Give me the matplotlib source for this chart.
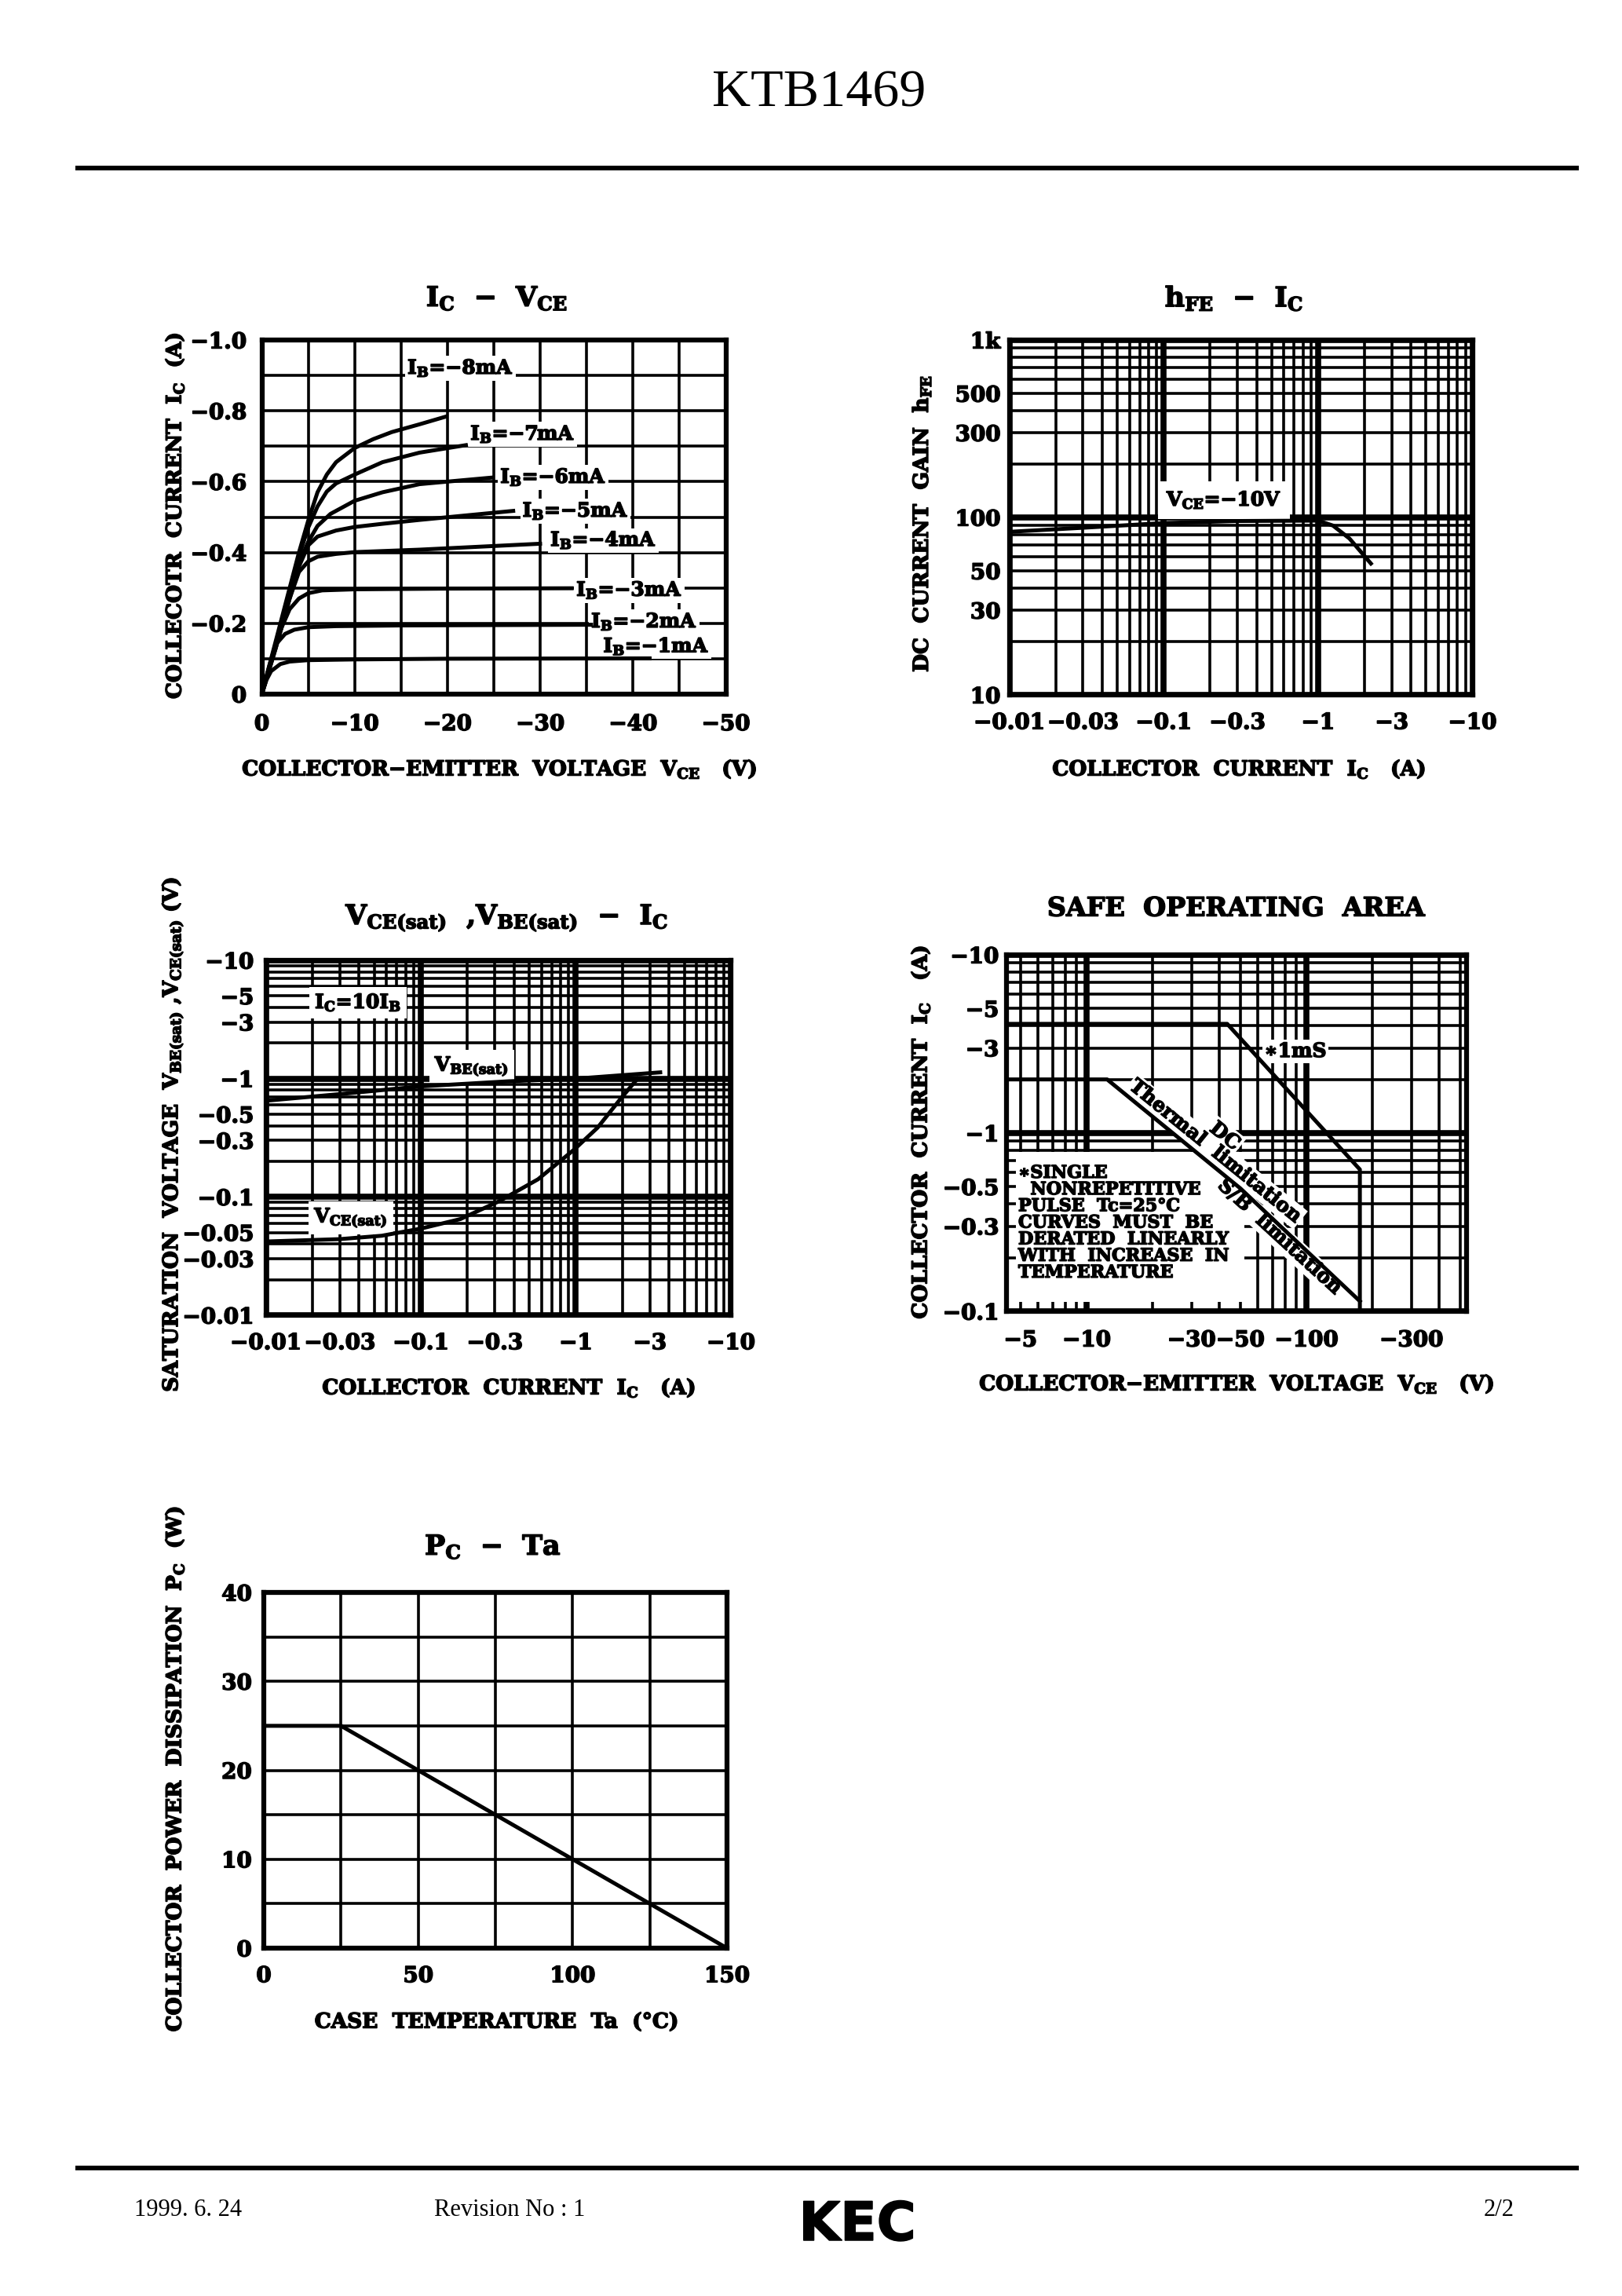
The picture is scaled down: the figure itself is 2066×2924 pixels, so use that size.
import matplotlib
matplotlib.use("Agg")
import matplotlib.pyplot as plt
import matplotlib.patheffects as pe
import numpy as np
from matplotlib.lines import Line2D
from matplotlib.patches import Rectangle
from matplotlib.ticker import NullLocator

plt.rcParams['font.family'] = ['DejaVu Serif', 'DejaVu Sans']
plt.rcParams['font.weight'] = 'bold'
plt.rcParams['mathtext.fontset'] = 'custom'
plt.rcParams['mathtext.rm'] = 'DejaVu Serif:bold'
plt.rcParams['mathtext.it'] = 'DejaVu Serif:bold'
plt.rcParams['mathtext.bf'] = 'DejaVu Serif:bold'

W, H = 2066, 2924

# ---------------- data ----------------
# Ic - Vce  (V, A)
vce_8ma = [0, -1.5, -3, -4, -5, -6, -7, -8, -10, -12, -14, -17, -20]
ic_8ma = [0, -0.15, -0.30, -0.40, -0.49, -0.57, -0.62, -0.655, -0.695, -0.72, -0.74, -0.762, -0.785]
vce_7ma = [0, -1.5, -3, -4, -5, -6, -7, -8, -10, -13, -17, -22.2]
ic_7ma = [0, -0.14, -0.29, -0.39, -0.47, -0.53, -0.572, -0.595, -0.62, -0.655, -0.682, -0.704]
vce_6ma = [0, -1.5, -3, -4, -5, -6, -7.4, -10, -13, -17, -25]
ic_6ma = [0, -0.14, -0.28, -0.37, -0.43, -0.475, -0.509, -0.546, -0.57, -0.593, -0.612]
vce_5ma = [0, -1.5, -3, -4, -5, -6, -8, -10, -13, -17, -27.3]
ic_5ma = [0, -0.13, -0.27, -0.36, -0.42, -0.445, -0.462, -0.472, -0.481, -0.492, -0.518]
vce_4ma = [0, -1.5, -3, -4, -5, -6, -8, -10, -17, -30.2]
ic_4ma = [0, -0.13, -0.27, -0.345, -0.375, -0.388, -0.396, -0.401, -0.408, -0.425]
vce_3ma = [0, -1, -2, -3, -4, -5, -6.5, -10, -20, -33.6]
ic_3ma = [0, -0.09, -0.18, -0.24, -0.27, -0.285, -0.293, -0.296, -0.298, -0.299]
vce_2ma = [0, -0.8, -1.5, -2.5, -3.5, -5, -8, -15, -35.7]
ic_2ma = [0, -0.08, -0.14, -0.17, -0.182, -0.189, -0.192, -0.194, -0.196]
vce_1ma = [0, -0.5, -1, -2, -3, -5, -10, -20, -42]
ic_1ma = [0, -0.04, -0.065, -0.085, -0.092, -0.096, -0.098, -0.1, -0.101]
ib_names = ['−8mA', '−7mA', '−6mA', '−5mA', '−4mA', '−3mA', '−2mA', '−1mA']
ic_vce_xticks = [0, -10, -20, -30, -40, -50]
ic_vce_yticks = [0, -0.2, -0.4, -0.6, -0.8, -1.0]

# hFE - Ic (magnitudes, A)
hfe_ic = [0.01, 0.03, 0.1, 0.3, 1.0, 1.25, 1.6, 2.2]
hfe = [83, 87.5, 93, 95.5, 96, 90, 76, 55]
hfe_yticks = [10, 30, 50, 100, 300, 500, 1000]
hfe_ylabels = ['10', '30', '50', '100', '300', '500', '1k']

# Vce(sat), Vbe(sat) - Ic (magnitudes)
vbe_ic = [0.01, 0.03, 0.1, 0.37, 1.0, 3.5]
vbe_sat = [0.65, 0.74, 0.86, 0.95, 1.0, 1.13]
vcesat_ic = [0.01, 0.03, 0.056, 0.1, 0.18, 0.32, 0.57, 0.97, 1.38, 1.95, 2.5]
vce_sat = [0.042, 0.044, 0.047, 0.054, 0.065, 0.092, 0.141, 0.25, 0.385, 0.68, 1.0]
ic_log_ticks = [0.01, 0.03, 0.1, 0.3, 1, 3, 10]
ic_log_labels = ['−0.01', '−0.03', '−0.1', '−0.3', '−1', '−3', '−10']
sat_yticks = [0.01, 0.03, 0.05, 0.1, 0.3, 0.5, 1, 3, 5, 10]
sat_ylabels = ['−0.01', '−0.03', '−0.05', '−0.1', '−0.3', '−0.5', '−1', '−3', '−5', '−10']

# Safe operating area (magnitudes, V / A)
soa_dc_v = [4.32, 12.4, 50, 175]
soa_dc_i = [2.0, 2.0, 0.49, 0.114]
soa_1ms_v = [4.32, 43.6, 175, 175]
soa_1ms_i = [4.1, 4.1, 0.625, 0.1]
soa_xticks = [5, 10, 30, 50, 100, 300]
soa_xlabels = ['−5', '−10', '−30', '−50', '−100', '−300']
soa_yticks = [0.1, 0.3, 0.5, 1, 3, 5, 10]
soa_ylabels = ['−0.1', '−0.3', '−0.5', '−1', '−3', '−5', '−10']

# Pc - Ta
ta = [0, 25, 150]
pc = [25, 25, 0]

# ---------------- helpers ----------------
fig = plt.figure(figsize=(W / 100, H / 100), dpi=100)
HEAVY = [pe.withStroke(linewidth=1.1, foreground='k')]


def fy(py):
    return 1 - py / H


def frame(x0, y0, x1, y1):
    ax = fig.add_axes([x0 / W, 1 - y1 / H, (x1 - x0) / W, (y1 - y0) / H])
    for s in ax.spines.values():
        s.set_linewidth(4.5)
        s.set_zorder(5)
    ax.tick_params(length=0, labelsize=20)
    return ax


def heavy_ticks(ax):
    for lbl in ax.get_xticklabels() + ax.get_yticklabels():
        lbl.set_path_effects(HEAVY)


def log_grid(ax, lo, hi, axis, lw_minor=2.6, lw_major=5.5):
    for e in range(int(np.floor(np.log10(lo))), int(np.ceil(np.log10(hi))) + 1):
        for m in range(1, 10):
            v = m * 10.0 ** e
            if lo * 0.999 <= v <= hi * 1.001:
                lw = lw_major if m == 1 else lw_minor
                if axis == 'x':
                    ax.axvline(v, color='k', lw=lw, zorder=1)
                else:
                    ax.axhline(v, color='k', lw=lw, zorder=1)


def ftext(x, y, s, size, rot=0, heavy=True, **kw):
    t = fig.text(x / W, fy(y), s, fontsize=size, rotation=rot, ha='center', va='center', **kw)
    if heavy:
        t.set_path_effects(HEAVY)


def atext(ax, x, y, s, size=18, pad=2, **kw):
    t = ax.text(x, y, s, fontsize=size, ha='center', va='center',
                bbox=dict(facecolor='white', edgecolor='none', pad=pad), zorder=2.5, **kw)
    t.set_path_effects(HEAVY)


CW = 3.6  # curve width

# ---------------- header / footer ----------------
ftext(1043, 119, 'KTB1469', 49, heavy=False, family='Liberation Serif', weight='normal')
fig.add_artist(Line2D([99 / W, 2008 / W], [fy(214)] * 2, lw=4.3, color='k'))
fig.add_artist(Line2D([99 / W, 2008 / W], [fy(2761)] * 2, lw=4.3, color='k'))
ftext(240, 2815, '1999. 6. 24', 22, heavy=False, family='Liberation Serif', weight='normal')
ftext(649, 2815, 'Revision No : 1', 22, heavy=False, family='Liberation Serif', weight='normal')
ftext(1909, 2815, '2/2', 22, heavy=False, family='Liberation Serif', weight='normal')
ftext(1092, 2834, 'KEC', 49, family='DejaVu Sans', weight='bold')

# ---------------- Ic - Vce ----------------
ax = frame(333.5, 433, 924.5, 884)
ax.set_xlim(0, -50)
ax.set_ylim(0, -1.0)
ax.set_xticks(np.arange(0, -50.1, -5), minor=True)
ax.set_yticks(np.arange(0, -1.01, -0.1), minor=True)
ax.grid(True, which='both', color='k', lw=2.6, zorder=1)
ax.tick_params(which='minor', length=0)
ax.set_xticks(ic_vce_xticks)
ax.set_xticklabels(['0', '−10', '−20', '−30', '−40', '−50'])
ax.set_yticks(ic_vce_yticks)
ax.set_yticklabels(['0', '−0.2', '−0.4', '−0.6', '−0.8', '−1.0'])
ax.tick_params(axis='y', pad=14)
ax.tick_params(axis='x', pad=18)
ax.set_axisbelow(True)
heavy_ticks(ax)
curves = [(vce_8ma, ic_8ma), (vce_7ma, ic_7ma), (vce_6ma, ic_6ma), (vce_5ma, ic_5ma),
          (vce_4ma, ic_4ma), (vce_3ma, ic_3ma), (vce_2ma, ic_2ma), (vce_1ma, ic_1ma)]
for v, i in curves:
    ax.plot(v, i, color='k', lw=CW, zorder=3, solid_capstyle='butt')
lab_v = [-21.4, -28.1, -31.4, -33.8, -36.8, -39.6, -41.2, -42.5]
lab_i = [-0.92, -0.734, -0.612, -0.517, -0.434, -0.293, -0.204, -0.134]
for name, lv, li in zip(ib_names, lab_v, lab_i):
    atext(ax, lv, li, r'I$_\mathrm{B}$=' + name)
ftext(633, 380, r'I$_\mathrm{C}$  −  V$_\mathrm{CE}$', 25)
ftext(636, 980, r'COLLECTOR−EMITTER  VOLTAGE  V$_\mathrm{CE}$   (V)', 19)
ftext(223, 657, r'COLLECOTR  CURRENT  I$_\mathrm{C}$  (A)', 19, rot=90)

# ---------------- hFE - Ic ----------------
ax = frame(1285.5, 433, 1875.5, 885)
ax.set_xscale('log')
ax.set_yscale('log')
ax.set_xlim(0.01, 10)
ax.set_ylim(10, 1000)
log_grid(ax, 0.01, 10, 'x')
log_grid(ax, 10, 1000, 'y')
ax.plot(hfe_ic, hfe, color='k', lw=CW, zorder=3)
ax.set_xticks(ic_log_ticks)
ax.set_xticklabels(ic_log_labels)
ax.set_yticks(hfe_yticks)
ax.set_yticklabels(hfe_ylabels)
ax.xaxis.set_minor_locator(NullLocator())
ax.yaxis.set_minor_locator(NullLocator())
ax.tick_params(axis='y', pad=8)
ax.tick_params(axis='x', pad=16)
heavy_ticks(ax)
atext(ax, 0.246, 125, r'V$_\mathrm{CE}$=−10V', pad=8)
ftext(1572, 380, r'h$_\mathrm{FE}$  −  I$_\mathrm{C}$', 25)
ftext(1578, 980, r'COLLECTOR  CURRENT  I$_\mathrm{C}$   (A)', 19)
ftext(1174, 667, r'DC  CURRENT  GAIN  h$_\mathrm{FE}$', 19, rot=90)

# ---------------- Vce(sat), Vbe(sat) - Ic ----------------
ax = frame(338.5, 1223, 931, 1675)
ax.set_xscale('log')
ax.set_yscale('log')
ax.set_xlim(0.01, 10)
ax.set_ylim(0.01, 10)
log_grid(ax, 0.01, 10, 'x')
log_grid(ax, 0.01, 10, 'y')
ax.plot(vbe_ic, vbe_sat, color='k', lw=CW, zorder=3)
ax.plot(vcesat_ic, vce_sat, color='k', lw=CW, zorder=3)
ax.set_xticks(ic_log_ticks)
ax.set_xticklabels(ic_log_labels)
ax.set_yticks(sat_yticks)
ax.set_yticklabels(sat_ylabels)
ax.xaxis.set_minor_locator(NullLocator())
ax.yaxis.set_minor_locator(NullLocator())
ax.tick_params(axis='y', pad=11)
ax.tick_params(axis='x', pad=16)
heavy_ticks(ax)
atext(ax, 0.0394, 4.38, r'I$_\mathrm{C}$=10I$_\mathrm{B}$', pad=5)
atext(ax, 0.213, 1.27, r'V$_\mathrm{BE(sat)}$', pad=5)
atext(ax, 0.0354, 0.0666, r'V$_\mathrm{CE(sat)}$', pad=5)
ftext(646, 1169, r'V$_\mathrm{CE(sat)}$  ,V$_\mathrm{BE(sat)}$  −  I$_\mathrm{C}$', 25)
ftext(648, 1768, r'COLLECTOR  CURRENT  I$_\mathrm{C}$   (A)', 19)
ftext(220, 1445, r'SATURATION  VOLTAGE  V$_\mathrm{BE(sat)}$ ,V$_\mathrm{CE(sat)}$ (V)', 19, rot=90)

# ---------------- Safe operating area ----------------
ax = frame(1282, 1216, 1868, 1670)
ax.set_xscale('log')
ax.set_yscale('log')
ax.set_xlim(4.32, 535)
ax.set_ylim(0.1, 10)
log_grid(ax, 4.32, 535, 'x')
log_grid(ax, 0.1, 10, 'y')
ax.add_patch(Rectangle((0.02, 0.026), 0.497, 0.421, transform=ax.transAxes,
                       facecolor='white', edgecolor='none', zorder=2))
ax.plot(soa_dc_v, soa_dc_i, color='k', lw=CW, zorder=3)
ax.plot(soa_1ms_v, soa_1ms_i, color='k', lw=CW, zorder=3)
ax.set_xticks(soa_xticks)
ax.set_xticklabels(soa_xlabels)
ax.set_yticks(soa_yticks)
ax.set_yticklabels(soa_ylabels)
ax.xaxis.set_minor_locator(NullLocator())
ax.yaxis.set_minor_locator(NullLocator())
ax.tick_params(axis='y', pad=7)
ax.tick_params(axis='x', pad=17)
heavy_ticks(ax)
atext(ax, 89, 2.87, '∗1mS')
atext(ax, 42.5, 0.96, 'DC', rotation=-39, rotation_mode='anchor')
atext(ax, 38.5, 0.79, 'Thermal  limitation', rotation=-39, rotation_mode='anchor')
atext(ax, 75.6, 0.262, 'S/B  limitation', rotation=-42.5, rotation_mode='anchor')
note = ('∗SINGLE\n  NONREPETITIVE\nPULSE  Tc=25°C\nCURVES  MUST  BE\n'
        'DERATED  LINEARLY\nWITH  INCREASE  IN\nTEMPERATURE')
t = ax.text(0.0256, 0.412, note, transform=ax.transAxes, fontsize=16, ha='left', va='top',
            linespacing=0.95, zorder=4)
t.set_path_effects(HEAVY)
ftext(1575, 1157, 'SAFE  OPERATING  AREA', 24)
ftext(1575, 1763, r'COLLECTOR−EMITTER  VOLTAGE  V$_\mathrm{CE}$   (V)', 19)
ftext(1173, 1442, r'COLLECTOR  CURRENT  I$_\mathrm{C}$   (A)', 19, rot=90)

# ---------------- Pc - Ta ----------------
ax = frame(336, 2028, 926, 2481)
ax.set_xlim(0, 150)
ax.set_ylim(0, 40)
ax.set_xticks(np.arange(0, 151, 25), minor=True)
ax.set_yticks(np.arange(0, 41, 5), minor=True)
ax.grid(True, which='both', color='k', lw=2.6, zorder=1)
ax.tick_params(which='minor', length=0)
ax.set_axisbelow(True)
ax.plot(ta, pc, color='k', lw=CW, zorder=3)
ax.set_xticks([0, 50, 100, 150])
ax.set_yticks([0, 10, 20, 30, 40])
ax.tick_params(axis='y', pad=11)
ax.tick_params(axis='x', pad=16)
heavy_ticks(ax)
ftext(628, 1970, r'P$_\mathrm{C}$  −  Ta', 25)
ftext(632, 2575, 'CASE  TEMPERATURE  Ta  (°C)', 19)
ftext(223, 2253, r'COLLECTOR  POWER  DISSIPATION  P$_\mathrm{C}$  (W)', 19, rot=90)

fig.savefig('out.png', dpi=100)
